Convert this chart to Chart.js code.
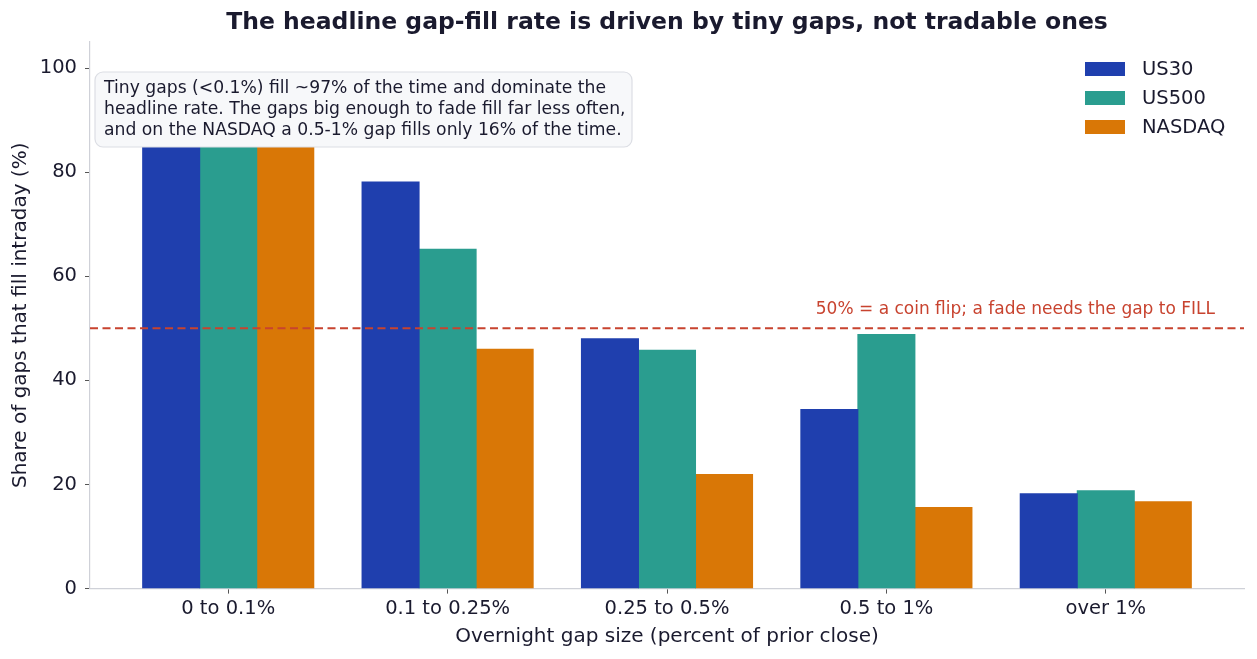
<!DOCTYPE html>
<html>
<head>
<meta charset="utf-8">
<script src="https://cdn.jsdelivr.net/npm/chart.js@4.4.1/dist/chart.umd.min.js"></script>
<style>
  html, body { margin: 0; padding: 0; background: #ffffff; }
  #wrap { width: 1257px; height: 659px; position: relative; }
</style>
</head>
<body>
<div id="wrap"><canvas id="c" width="1257" height="659"></canvas></div>
<script>
const categories = ["0 to 0.1%", "0.1 to 0.25%", "0.25 to 0.5%", "0.5 to 1%", "over 1%"];
const us30 = [97.3, 78.1, 48.0, 34.4, 18.2];
const us500 = [96.6, 65.2, 45.8, 48.8, 18.8];
const nasdaq = [97.0, 46.0, 21.9, 15.6, 16.7];
const seriesNames = ["US30", "US500", "NASDAQ"];
const seriesColors = ["#1f3fae", "#2a9d8f", "#d97706"];
const yTicks = [0, 20, 40, 60, 80, 100];
const refValue = 50;
const titleText = "The headline gap-fill rate is driven by tiny gaps, not tradable ones";
const refText = "50% = a coin flip; a fade needs the gap to FILL";
const noteLines = [
  "Tiny gaps (<0.1%) fill ~97% of the time and dominate the",
  "headline rate. The gaps big enough to fade fill far less often,",
  "and on the NASDAQ a 0.5-1% gap fills only 16% of the time."
];

const FONT = "'DejaVu Sans', sans-serif";
const TEXT = "#1a1a2e";

function toPoints(arr) { return arr.map((v, i) => ({ x: i, y: v })); }

const allSeries = [us30, us500, nasdaq];
const datasets = allSeries.map((s, k) => ({
  label: seriesNames[k],
  data: toPoints(s),
  backgroundColor: seriesColors[k],
  borderWidth: 0,
  inflateAmount: 0.5,
  categoryPercentage: 0.78,
  barPercentage: 1.0
}));

const overlay = {
  id: 'overlay',
  afterDatasetsDraw(chart) {
    const ctx = chart.ctx;
    const ca = chart.chartArea;
    const ys = chart.scales.y;
    // reference line
    const yRef = ys.getPixelForValue(refValue);
    ctx.save();
    ctx.strokeStyle = "#c8432f";
    ctx.lineWidth = 2;
    ctx.setLineDash([8, 4.5]);
    ctx.beginPath();
    ctx.moveTo(ca.left, yRef);
    ctx.lineTo(ca.right, yRef);
    ctx.stroke();
    ctx.setLineDash([]);
    ctx.fillStyle = "#c8432f";
    ctx.font = "17px " + FONT;
    ctx.textAlign = "right";
    ctx.textBaseline = "middle";
    ctx.fillText(refText, ca.right - 29, yRef - 19);
    ctx.restore();

    // note box
    ctx.save();
    const bx = ca.left + 5, by = ca.top + 30, bw = 537, bh = 75, r = 8;
    ctx.beginPath();
    ctx.moveTo(bx + r, by);
    ctx.lineTo(bx + bw - r, by);
    ctx.arcTo(bx + bw, by, bx + bw, by + r, r);
    ctx.lineTo(bx + bw, by + bh - r);
    ctx.arcTo(bx + bw, by + bh, bx + bw - r, by + bh, r);
    ctx.lineTo(bx + r, by + bh);
    ctx.arcTo(bx, by + bh, bx, by + bh - r, r);
    ctx.lineTo(bx, by + r);
    ctx.arcTo(bx, by, bx + r, by, r);
    ctx.closePath();
    ctx.fillStyle = "#f7f8fa";
    ctx.fill();
    ctx.strokeStyle = "#dcdee4";
    ctx.lineWidth = 1.2;
    ctx.stroke();
    ctx.fillStyle = TEXT;
    ctx.font = "17.2px " + FONT;
    ctx.textAlign = "left";
    ctx.textBaseline = "middle";
    noteLines.forEach((t, i) => ctx.fillText(t, bx + 9, by + 17 + i * 21));
    ctx.restore();

    // legend
    ctx.save();
    ctx.font = "19.5px " + FONT;
    ctx.textBaseline = "middle";
    ctx.textAlign = "left";
    chart.data.datasets.forEach((d, i) => {
      const ly = ca.top + 27 + i * 29;
      ctx.fillStyle = d.backgroundColor;
      ctx.fillRect(1085, ly - 7, 40, 14);
      ctx.fillStyle = TEXT;
      ctx.fillText(d.label, 1142, ly + 1);
    });
    ctx.restore();

    // title
    ctx.save();
    ctx.font = "bold 23.5px " + FONT;
    ctx.fillStyle = TEXT;
    ctx.textAlign = "center";
    ctx.textBaseline = "middle";
    ctx.fillText(titleText, (ca.left + ca.right) / 2, 23);
    ctx.restore();
  }
};

new Chart(document.getElementById('c'), {
  type: 'bar',
  data: { datasets },
  options: {
    responsive: false,
    animation: false,
    layout: { padding: { top: 42, right: 13, left: 0, bottom: 10 } },
    plugins: { legend: { display: false }, title: { display: false }, tooltip: { enabled: false } },
    scales: {
      x: {
        type: 'linear',
        min: -0.63,
        max: 4.63,
        offset: false,
        afterBuildTicks: (s) => { s.ticks = categories.map((c, i) => ({ value: i })); },
        ticks: {
          callback: (v) => categories[v] ?? "",
          font: { family: FONT, size: 19.5 },
          color: TEXT,
          padding: 4,
          maxRotation: 0,
          autoSkip: false
        },
        grid: { offset: false, drawOnChartArea: false, drawTicks: true, tickLength: 5, color: "#555555" },
        border: { display: true, color: "#cfd1d8", width: 1.2 },
        title: { display: true, text: "Overnight gap size (percent of prior close)", font: { family: FONT, size: 20 }, color: TEXT, padding: { top: 0, bottom: 0 } }
      },
      y: {
        min: 0,
        max: 105,
        afterBuildTicks: (s) => { s.ticks = yTicks.map(v => ({ value: v })); },
        ticks: { font: { family: FONT, size: 19.5 }, color: TEXT, padding: 8 },
        grid: { drawOnChartArea: false, drawTicks: true, tickLength: 5, color: "#555555" },
        border: { display: true, color: "#cfd1d8", width: 1.2 },
        title: { display: true, text: "Share of gaps that fill intraday (%)", font: { family: FONT, size: 20 }, color: TEXT, padding: { top: 9, bottom: 0 } },
        afterFit: (s) => { s.width = 90; }
      }
    }
  },
  plugins: [overlay]
});
</script>
</body>
</html>
